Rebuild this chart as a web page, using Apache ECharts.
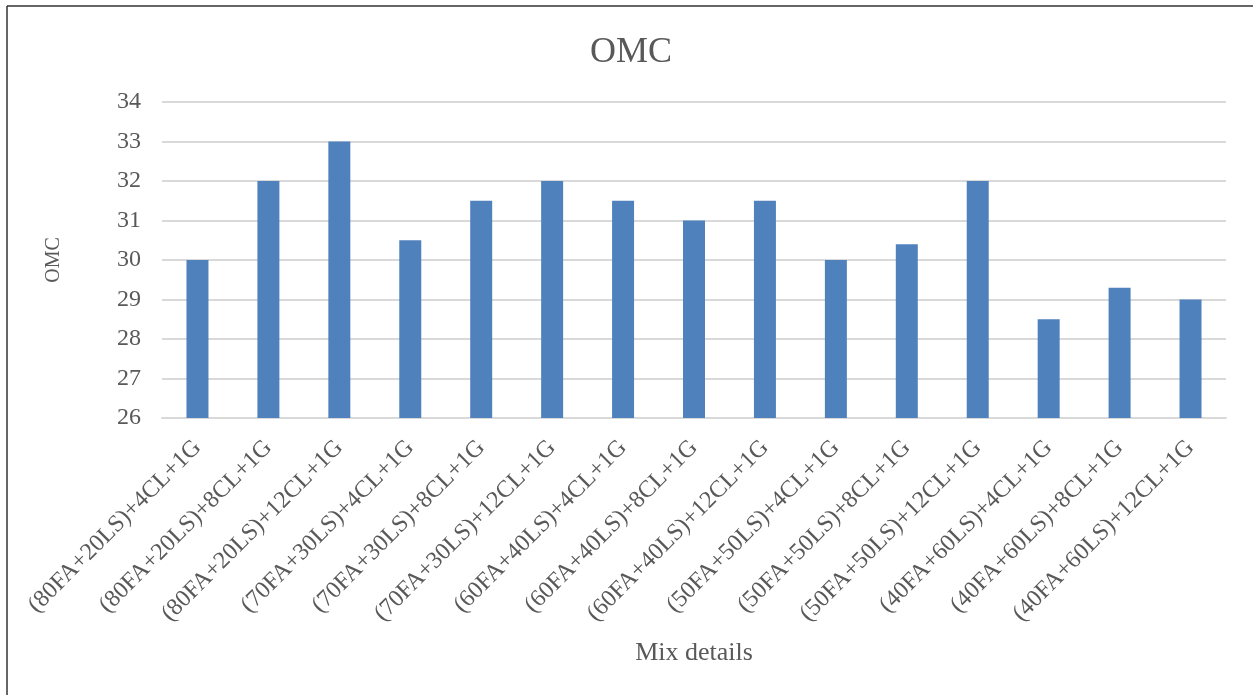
<!DOCTYPE html>
<html>
<head>
<meta charset="utf-8">
<script src="https://cdn.jsdelivr.net/npm/echarts@6/dist/echarts.min.js"></script>
<style>
  html, body { margin: 0; padding: 0; background: #ffffff; }
  #chart { width: 1253px; height: 695px; }
</style>
</head>
<body>
<div id="chart"></div>
<script>
// Mix designs and their optimum moisture content (OMC, %)
const mixes = [
  '(80FA+20LS)+4CL+1G', '(80FA+20LS)+8CL+1G', '(80FA+20LS)+12CL+1G',
  '(70FA+30LS)+4CL+1G', '(70FA+30LS)+8CL+1G', '(70FA+30LS)+12CL+1G',
  '(60FA+40LS)+4CL+1G', '(60FA+40LS)+8CL+1G', '(60FA+40LS)+12CL+1G',
  '(50FA+50LS)+4CL+1G', '(50FA+50LS)+8CL+1G', '(50FA+50LS)+12CL+1G',
  '(40FA+60LS)+4CL+1G', '(40FA+60LS)+8CL+1G', '(40FA+60LS)+12CL+1G'
];
const omcValues = [30, 32, 33, 30.5, 31.5, 32, 31.5, 31, 31.5, 30, 30.4, 32, 28.5, 29.3, 29];
const yMin = 26;
const yMax = 34;
const yStep = 1;

const serif = "'Liberation Serif', 'Times New Roman', 'DejaVu Serif', serif";
const textColor = '#595959';
const gridColor = '#D9D9D9';

const chart = echarts.init(document.getElementById('chart'), null, { renderer: 'canvas' });

chart.setOption({
  animation: false,
  backgroundColor: '#ffffff',
  title: {
    text: 'OMC',
    left: 626,
    textAlign: 'center',
    top: 30,
    textStyle: { fontFamily: serif, fontSize: 36, fontWeight: 'normal', color: textColor }
  },
  grid: { left: 162, right: 27, top: 102, bottom: 277, containLabel: false },
  xAxis: {
    type: 'category',
    data: mixes,
    name: 'Mix details',
    nameLocation: 'middle',
    nameGap: 222,
    nameTextStyle: { fontFamily: serif, fontSize: 26, color: textColor },
    axisLine: { lineStyle: { color: gridColor, width: 2 } },
    axisTick: { show: false },
    axisLabel: {
      interval: 0,
      rotate: 45,
      margin: 26,
      fontFamily: serif,
      fontSize: 24,
      color: textColor
    }
  },
  yAxis: {
    type: 'value',
    min: yMin,
    max: yMax,
    interval: yStep,
    name: 'OMC',
    nameLocation: 'middle',
    nameGap: 98,
    nameRotate: 90,
    nameTextStyle: { fontFamily: serif, fontSize: 20, color: textColor },
    axisLine: { show: false },
    axisTick: { show: false },
    axisLabel: { fontFamily: serif, fontSize: 24, color: textColor, margin: 21 },
    splitLine: { lineStyle: { color: gridColor, width: 2 } }
  },
  series: [{
    type: 'bar',
    data: omcValues,
    barWidth: '31%',
    itemStyle: { color: '#4F81BD' }
  }],
  graphic: [
    { type: 'line', shape: { x1: 7, y1: 6, x2: 1253, y2: 6 }, style: { stroke: '#333333', lineWidth: 1.5 } },
    { type: 'line', shape: { x1: 7, y1: 6, x2: 7, y2: 695 }, style: { stroke: '#333333', lineWidth: 1.5 } }
  ]
});
</script>
</body>
</html>
